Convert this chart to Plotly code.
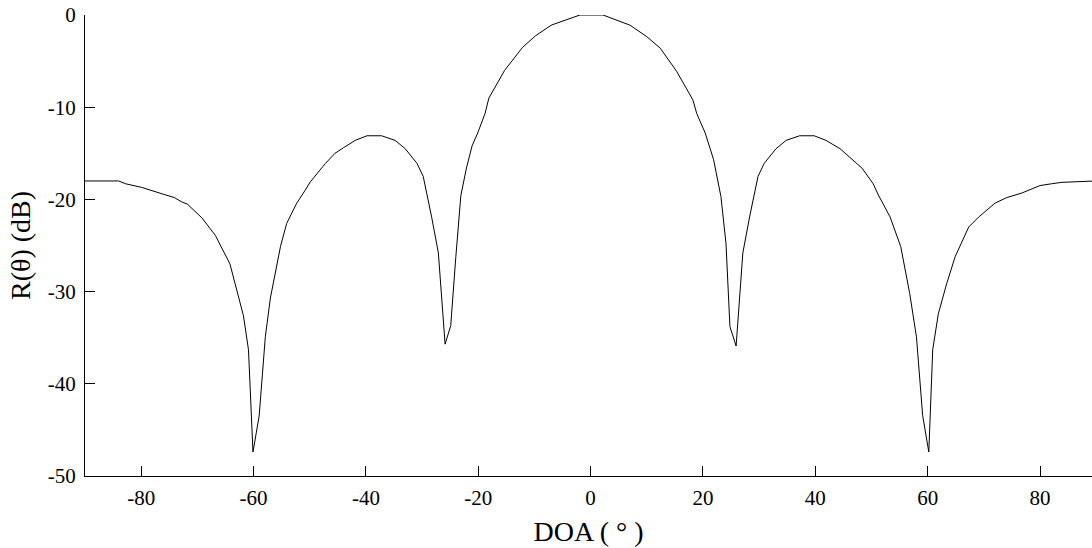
import plotly.graph_objects as go

doa = [-90, -84, -82.8, -81.0, -79.9, -76.0, -74.1, -72.7, -71.8, -69.2, -66.8, -64.2,
       -62.7, -61.8, -60.9, -60.1, -59.0, -57.9, -57.0, -56.1, -55.2, -54.1, -52.3,
       -50.8, -49.9, -47.2, -45.5, -44.0, -41.9, -39.8, -37.2, -34.8, -33.0, -30.9,
       -29.8, -28.3, -27.1, -25.9, -24.9, -24.0, -23.1, -22.1, -21.1, -20.1, -18.8,
       -18.1, -15.3, -12.1, -9.8, -7.0, -2.5, -1.9, 2.2, 7.0, 10.0, 12.4, 15.3, 18.2,
       18.9, 20.4, 21.9, 23.2, 24.1, 24.8, 25.9, 27.1, 28.3, 29.8, 30.9, 33.0, 34.8,
       37.2, 39.8, 41.9, 44.4, 48.3, 50.3, 51.2, 53.3, 55.2, 56.8, 58.0, 59.1, 60.2,
       60.9, 61.9, 63.4, 64.9, 67.3, 69.1, 72.0, 74.1, 76.8, 80.0, 82.1, 83.9, 90]
r_db = [-18.0, -18.0, -18.3, -18.5, -18.7, -19.45, -19.8, -20.3, -20.5, -22.0, -23.9, -27.0,
        -30.6, -32.6, -36.3, -47.4, -43.5, -34.9, -30.7, -27.7, -25.1, -22.6, -20.4,
        -19.0, -18.1, -16.1, -15.0, -14.4, -13.6, -13.1, -13.1, -13.6, -14.5, -16.1,
        -17.5, -21.9, -25.8, -35.7, -33.7, -26.3, -19.6, -16.6, -14.2, -12.8, -10.7,
        -9.0, -6.0, -3.5, -2.25, -1.1, -0.2, 0.0, 0.0, -1.1, -2.35, -3.6, -6.1, -9.2,
        -10.7, -12.8, -15.7, -19.7, -24.8, -33.8, -35.9, -25.8, -21.9, -17.5, -16.1, -14.5, -13.6,
        -13.1, -13.1, -13.6, -14.5, -16.6, -18.3, -19.5, -21.9, -25.1, -30.2, -34.9, -43.4, -47.4,
        -36.3, -32.4, -29.1, -26.2, -23.0, -21.9, -20.4, -19.8, -19.3, -18.5, -18.3, -18.15, -18.0]

x_ticks = [-80, -60, -40, -20, 0, 20, 40, 60, 80]
x_labels = ["-80", "-60", "-40", "-20", "0", "20", "40", "60", "80"]
y_ticks = [-50, -40, -30, -20, -10, 0]
y_labels = ["-50", "-40", "-30", "-20", "-10", "0"]

fig = go.Figure()
fig.add_trace(go.Scatter(x=doa, y=r_db, mode="lines",
                         line=dict(color="black", width=1), showlegend=False))

font = "Liberation Serif, Times New Roman, serif"
fig.update_layout(
    width=1092, height=548,
    margin=dict(l=85, r=0, t=15, b=72),
    paper_bgcolor="white", plot_bgcolor="white",
    font=dict(family=font, color="black"),
    xaxis=dict(range=[-90, 89.25], tickvals=x_ticks, ticktext=x_labels,
               ticks="inside", ticklen=10, ticklabelstandoff=3,
               tickcolor="black", showline=True, linecolor="black", linewidth=1,
               showgrid=False, zeroline=False, tickfont=dict(size=21),
               title=dict(text="DOA ( ° )", font=dict(size=28), standoff=12)),
    yaxis=dict(range=[-50, 0], tickvals=y_ticks, ticktext=y_labels,
               ticks="inside", ticklen=10, ticklabelstandoff=4,
               tickcolor="black", showline=True, linecolor="black", linewidth=1,
               showgrid=False, zeroline=False, tickfont=dict(size=21),
               title=dict(text="R(θ) (dB)", font=dict(size=28), standoff=8)),
)
fig.write_html("out.html")
